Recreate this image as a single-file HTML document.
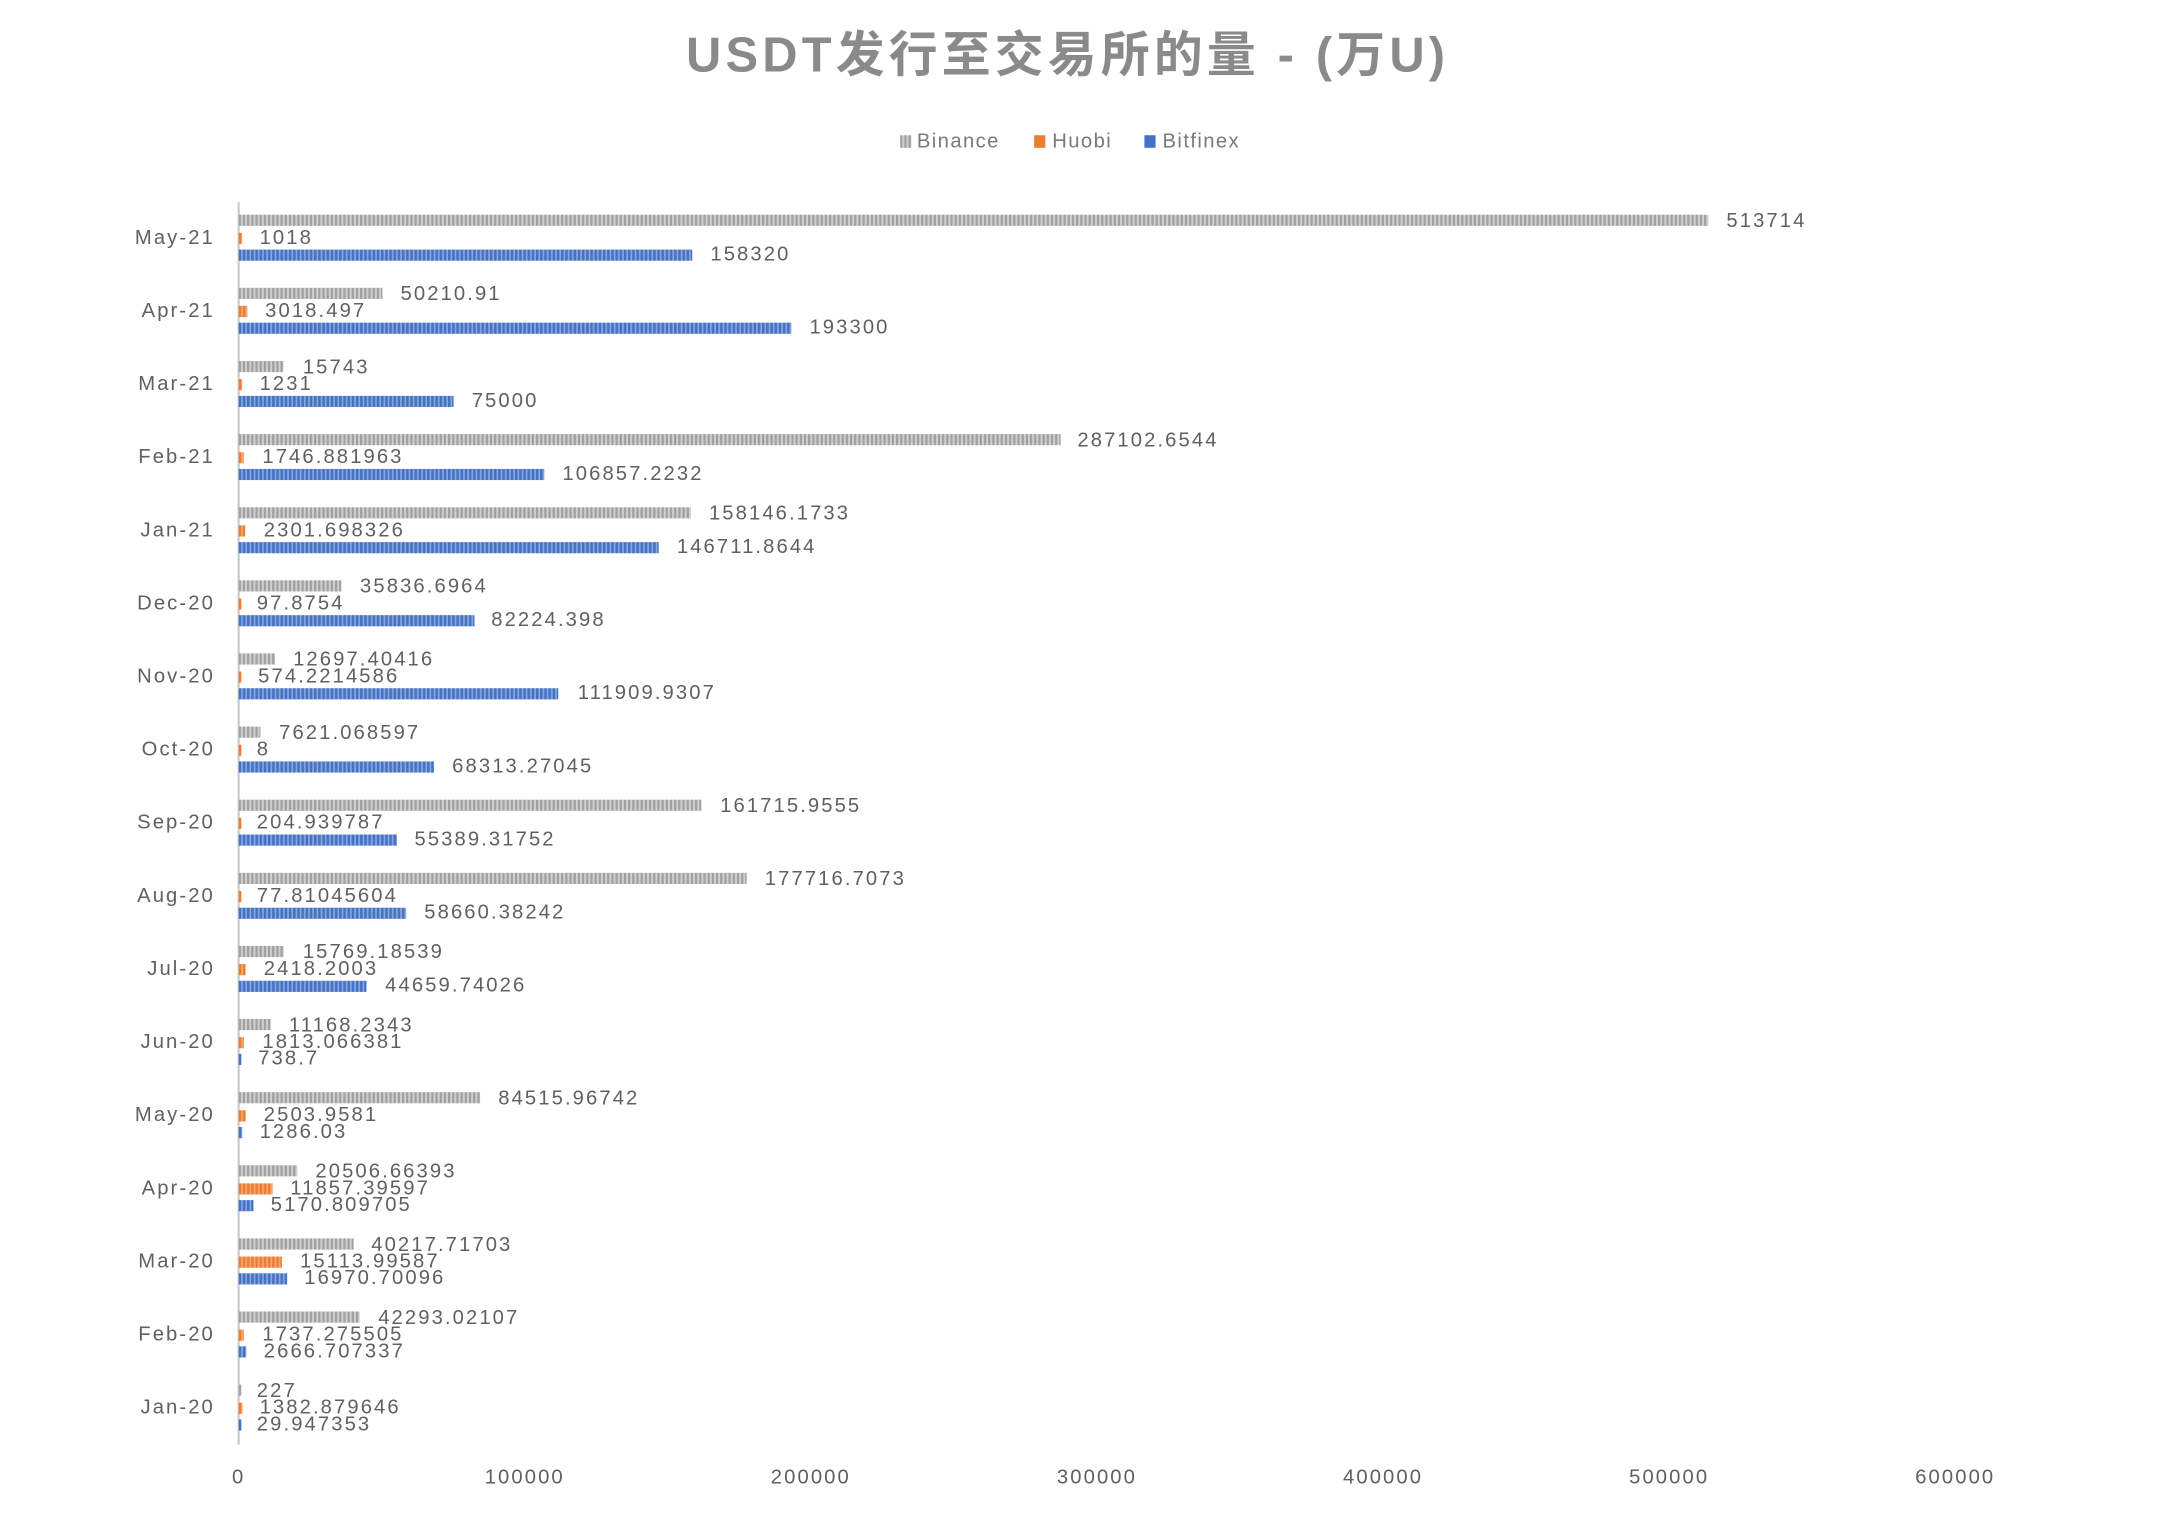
<!DOCTYPE html>
<html><head><meta charset="utf-8"><style>html,body{margin:0;padding:0;background:#fff}svg{display:block}</style></head>
<body>
<svg width="2166" height="1524" viewBox="0 0 1552 1093" preserveAspectRatio="none" xmlns="http://www.w3.org/2000/svg" font-family="Liberation Sans, Noto Sans CJK SC, sans-serif">
<defs>
<pattern id="pg" width="3" height="10" patternUnits="userSpaceOnUse"><rect width="3" height="10" fill="#d0d0d0"/><rect width="1.6" height="10" fill="#a0a0a0"/></pattern>
<pattern id="po" width="3" height="10" patternUnits="userSpaceOnUse"><rect width="3" height="10" fill="#f2a878"/><rect width="1.8" height="10" fill="#ed7d31"/></pattern>
<pattern id="pb" width="3" height="10" patternUnits="userSpaceOnUse"><rect width="3" height="10" fill="#8aa6dc"/><rect width="1.8" height="10" fill="#4472c4"/></pattern>
</defs>
<text x="765" y="42" text-anchor="middle" dominant-baseline="middle" font-size="35" font-weight="bold" letter-spacing="3" fill="#8a8a8a" font-family="Liberation Sans, Noto Sans CJK SC, sans-serif">USDT发行至交易所的量 - (万U)</text>
<g font-size="14.5" fill="#7a7a7a" dominant-baseline="middle" letter-spacing="1">
<rect x="645" y="97" width="8" height="9" fill="url(#pg)"/><text x="657" y="102">Binance</text>
<rect x="741" y="97" width="8" height="9" fill="#ed7d31"/><text x="754" y="102">Huobi</text>
<rect x="820" y="97" width="8" height="9" fill="#4472c4"/><text x="833" y="102">Bitfinex</text>
</g>
<line x1="171" y1="145" x2="171" y2="1036" stroke="#c8c8c8" stroke-width="1.5"/>
<g font-size="14.5" fill="#606060" text-anchor="middle" dominant-baseline="middle" letter-spacing="1.5">
<text x="171" y="1060">0</text><text x="376" y="1060">100000</text><text x="581" y="1060">200000</text><text x="786" y="1060">300000</text><text x="991" y="1060">400000</text><text x="1196" y="1060">500000</text><text x="1401" y="1060">600000</text>
</g>
<g font-size="14.5" fill="#606060" dominant-baseline="middle" letter-spacing="1.5">
<g transform="translate(0,171)"><text x="154" text-anchor="end">May-21</text><rect x="171" y="-17" width="1053" height="8" fill="url(#pg)"/><text x="1237" y="-12">513714</text><rect x="171" y="-4" width="2.5" height="8" fill="url(#po)"/><text x="186" y="0">1018</text><rect x="171" y="8" width="325" height="8" fill="url(#pb)"/><text x="509" y="12">158320</text></g>
<g transform="translate(0,223.4)"><text x="154" text-anchor="end">Apr-21</text><rect x="171" y="-17" width="103" height="8" fill="url(#pg)"/><text x="287" y="-12">50210.91</text><rect x="171" y="-4" width="6.2" height="8" fill="url(#po)"/><text x="190" y="0">3018.497</text><rect x="171" y="8" width="396" height="8" fill="url(#pb)"/><text x="580" y="12">193300</text></g>
<g transform="translate(0,275.9)"><text x="154" text-anchor="end">Mar-21</text><rect x="171" y="-17" width="32" height="8" fill="url(#pg)"/><text x="217" y="-12">15743</text><rect x="171" y="-4" width="2.5" height="8" fill="url(#po)"/><text x="186" y="0">1231</text><rect x="171" y="8" width="154" height="8" fill="url(#pb)"/><text x="338" y="12">75000</text></g>
<g transform="translate(0,328.3)"><text x="154" text-anchor="end">Feb-21</text><rect x="171" y="-17" width="589" height="8" fill="url(#pg)"/><text x="772" y="-12">287102.6544</text><rect x="171" y="-4" width="3.6" height="8" fill="url(#po)"/><text x="188" y="0">1746.881963</text><rect x="171" y="8" width="219" height="8" fill="url(#pb)"/><text x="403" y="12">106857.2232</text></g>
<g transform="translate(0,380.8)"><text x="154" text-anchor="end">Jan-21</text><rect x="171" y="-17" width="324" height="8" fill="url(#pg)"/><text x="508" y="-12">158146.1733</text><rect x="171" y="-4" width="4.7" height="8" fill="url(#po)"/><text x="189" y="0">2301.698326</text><rect x="171" y="8" width="301" height="8" fill="url(#pb)"/><text x="485" y="12">146711.8644</text></g>
<g transform="translate(0,433.2)"><text x="154" text-anchor="end">Dec-20</text><rect x="171" y="-17" width="73.5" height="8" fill="url(#pg)"/><text x="258" y="-12">35836.6964</text><rect x="171" y="-4" width="2" height="8" fill="url(#po)"/><text x="184" y="0">97.8754</text><rect x="171" y="8" width="169" height="8" fill="url(#pb)"/><text x="352" y="12">82224.398</text></g>
<g transform="translate(0,485.6)"><text x="154" text-anchor="end">Nov-20</text><rect x="171" y="-17" width="26" height="8" fill="url(#pg)"/><text x="210" y="-12">12697.40416</text><rect x="171" y="-4" width="2" height="8" fill="url(#po)"/><text x="185" y="0">574.2214586</text><rect x="171" y="8" width="229" height="8" fill="url(#pb)"/><text x="414" y="12">111909.9307</text></g>
<g transform="translate(0,538.1)"><text x="154" text-anchor="end">Oct-20</text><rect x="171" y="-17" width="15.6" height="8" fill="url(#pg)"/><text x="200" y="-12">7621.068597</text><rect x="171" y="-4" width="2" height="8" fill="url(#po)"/><text x="184" y="0">8</text><rect x="171" y="8" width="140" height="8" fill="url(#pb)"/><text x="324" y="12">68313.27045</text></g>
<g transform="translate(0,590.5)"><text x="154" text-anchor="end">Sep-20</text><rect x="171" y="-17" width="331.5" height="8" fill="url(#pg)"/><text x="516" y="-12">161715.9555</text><rect x="171" y="-4" width="2" height="8" fill="url(#po)"/><text x="184" y="0">204.939787</text><rect x="171" y="8" width="113.5" height="8" fill="url(#pb)"/><text x="297" y="12">55389.31752</text></g>
<g transform="translate(0,643)"><text x="154" text-anchor="end">Aug-20</text><rect x="171" y="-17" width="364" height="8" fill="url(#pg)"/><text x="548" y="-12">177716.7073</text><rect x="171" y="-4" width="2" height="8" fill="url(#po)"/><text x="184" y="0">77.81045604</text><rect x="171" y="8" width="120" height="8" fill="url(#pb)"/><text x="304" y="12">58660.38242</text></g>
<g transform="translate(0,695.4)"><text x="154" text-anchor="end">Jul-20</text><rect x="171" y="-17" width="32.3" height="8" fill="url(#pg)"/><text x="217" y="-12">15769.18539</text><rect x="171" y="-4" width="5" height="8" fill="url(#po)"/><text x="189" y="0">2418.2003</text><rect x="171" y="8" width="91.6" height="8" fill="url(#pb)"/><text x="276" y="12">44659.74026</text></g>
<g transform="translate(0,747.8)"><text x="154" text-anchor="end">Jun-20</text><rect x="171" y="-17" width="23" height="8" fill="url(#pg)"/><text x="207" y="-12">11168.2343</text><rect x="171" y="-4" width="3.7" height="8" fill="url(#po)"/><text x="188" y="0">1813.066381</text><rect x="171" y="8" width="2" height="8" fill="url(#pb)"/><text x="185" y="12">738.7</text></g>
<g transform="translate(0,800.3)"><text x="154" text-anchor="end">May-20</text><rect x="171" y="-17" width="173" height="8" fill="url(#pg)"/><text x="357" y="-12">84515.96742</text><rect x="171" y="-4" width="5.1" height="8" fill="url(#po)"/><text x="189" y="0">2503.9581</text><rect x="171" y="8" width="2.6" height="8" fill="url(#pb)"/><text x="186" y="12">1286.03</text></g>
<g transform="translate(0,852.7)"><text x="154" text-anchor="end">Apr-20</text><rect x="171" y="-17" width="42" height="8" fill="url(#pg)"/><text x="226" y="-12">20506.66393</text><rect x="171" y="-4" width="24.3" height="8" fill="url(#po)"/><text x="208" y="0">11857.39597</text><rect x="171" y="8" width="10.6" height="8" fill="url(#pb)"/><text x="194" y="12">5170.809705</text></g>
<g transform="translate(0,905.2)"><text x="154" text-anchor="end">Mar-20</text><rect x="171" y="-17" width="82.4" height="8" fill="url(#pg)"/><text x="266" y="-12">40217.71703</text><rect x="171" y="-4" width="31" height="8" fill="url(#po)"/><text x="215" y="0">15113.99587</text><rect x="171" y="8" width="34.8" height="8" fill="url(#pb)"/><text x="218" y="12">16970.70096</text></g>
<g transform="translate(0,957.6)"><text x="154" text-anchor="end">Feb-20</text><rect x="171" y="-17" width="86.7" height="8" fill="url(#pg)"/><text x="271" y="-12">42293.02107</text><rect x="171" y="-4" width="3.6" height="8" fill="url(#po)"/><text x="188" y="0">1737.275505</text><rect x="171" y="8" width="5.5" height="8" fill="url(#pb)"/><text x="189" y="12">2666.707337</text></g>
<g transform="translate(0,1010)"><text x="154" text-anchor="end">Jan-20</text><rect x="171" y="-17" width="2" height="8" fill="url(#pg)"/><text x="184" y="-12">227</text><rect x="171" y="-4" width="2.8" height="8" fill="url(#po)"/><text x="186" y="0">1382.879646</text><rect x="171" y="8" width="2" height="8" fill="url(#pb)"/><text x="184" y="12">29.947353</text></g>
</g>
</svg>
</body></html>
